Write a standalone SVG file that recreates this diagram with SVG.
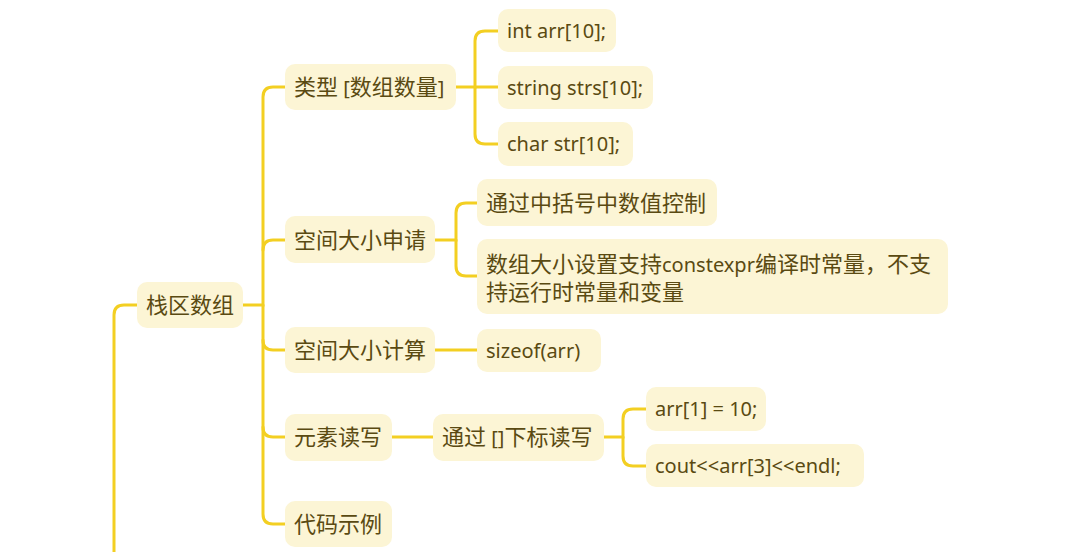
<svg xmlns="http://www.w3.org/2000/svg" width="1083" height="552" viewBox="0 0 1083 552">
<style>
.n{fill:#fcf5d5}
.t{font-family:"Noto Sans","Noto Sans CJK SC",sans-serif;font-size:22px;fill:#5a4a12}
.l{font-size:20px}
.c{fill:none;stroke:#f3cf22;stroke-width:3;stroke-linecap:round}
</style>
<rect width="1083" height="552" fill="#ffffff"/>
<g id="connectors">
<path class="c" d="M137,305 H124 Q114,305 114,315 V552"/>
<path class="c" d="M243,305 H263 V97 Q263,87 273,87 H285"/>
<path class="c" d="M263,250 Q263,240 273,240 H285"/>
<path class="c" d="M263,305 V340 Q263,350 273,350 H285"/>
<path class="c" d="M263,340 V427 Q263,437 273,437 H285"/>
<path class="c" d="M263,427 V514 Q263,524 273,524 H285"/>
<path class="c" d="M456,87 H475 V41 Q475,31 485,31 H498"/>
<path class="c" d="M475,87 H498"/>
<path class="c" d="M475,87 V134 Q475,144 485,144 H498"/>
<path class="c" d="M435,240 H456 V213 Q456,203 466,203 H477"/>
<path class="c" d="M456,240 V266 Q456,276 466,276 H477"/>
<path class="c" d="M435,350 H477"/>
<path class="c" d="M392,437 H433"/>
<path class="c" d="M604,437 H623 V419 Q623,409 633,409 H646"/>
<path class="c" d="M623,437 V456 Q623,466 633,466 H646"/>
</g>
<g id="root"><rect class="n" x="137" y="282" width="106" height="46" rx="10"/><text class="t" x="146" y="313">栈区数组</text></g>
<g id="n-type"><rect class="n" x="285" y="64" width="171" height="46" rx="10"/><text class="t" x="294" y="95">类型<tspan class="l"> [</tspan>数组数量<tspan class="l">]</tspan></text></g>
<g id="n-int"><rect class="n" x="498" y="9" width="118" height="43" rx="10"/><text class="t l" x="507" y="38">int arr[10];</text></g>
<g id="n-string"><rect class="n" x="498" y="66" width="155" height="43" rx="10"/><text class="t l" x="507" y="95">string strs[10];</text></g>
<g id="n-char"><rect class="n" x="498" y="122" width="135" height="44" rx="10"/><text class="t l" x="507" y="151">char str[10];</text></g>
<g id="n-size"><rect class="n" x="285" y="216" width="150" height="47" rx="10"/><text class="t" x="294" y="248">空间大小申请</text></g>
<g id="n-bracket"><rect class="n" x="477" y="179" width="240" height="47" rx="10"/><text class="t" x="486" y="211">通过中括号中数值控制</text></g>
<g id="n-constexpr"><rect class="n" x="477" y="239" width="471" height="75" rx="10"/><text class="t" x="486" y="272">数组大小设置支持<tspan class="l">constexpr</tspan>编译时常量，不支</text><text class="t" x="486" y="300">持运行时常量和变量</text></g>
<g id="n-calc"><rect class="n" x="285" y="327" width="150" height="46" rx="10"/><text class="t" x="294" y="358">空间大小计算</text></g>
<g id="n-sizeof"><rect class="n" x="477" y="329" width="124" height="43" rx="10"/><text class="t l" x="486" y="358">sizeof(arr)</text></g>
<g id="n-rw"><rect class="n" x="285" y="414" width="107" height="47" rx="10"/><text class="t" x="294" y="445">元素读写</text></g>
<g id="n-index"><rect class="n" x="433" y="414" width="171" height="47" rx="10"/><text class="t" x="442" y="445">通过<tspan class="l"> []</tspan>下标读写</text></g>
<g id="n-arr1"><rect class="n" x="646" y="387" width="120" height="44" rx="10"/><text class="t l" x="655" y="416">arr[1] = 10;</text></g>
<g id="n-cout"><rect class="n" x="646" y="444" width="218" height="43" rx="10"/><text class="t l" x="655" y="473">cout&lt;&lt;arr[3]&lt;&lt;endl;</text></g>
<g id="n-example"><rect class="n" x="285" y="501" width="107" height="46" rx="10"/><text class="t" x="294" y="532">代码示例</text></g>
</svg>
